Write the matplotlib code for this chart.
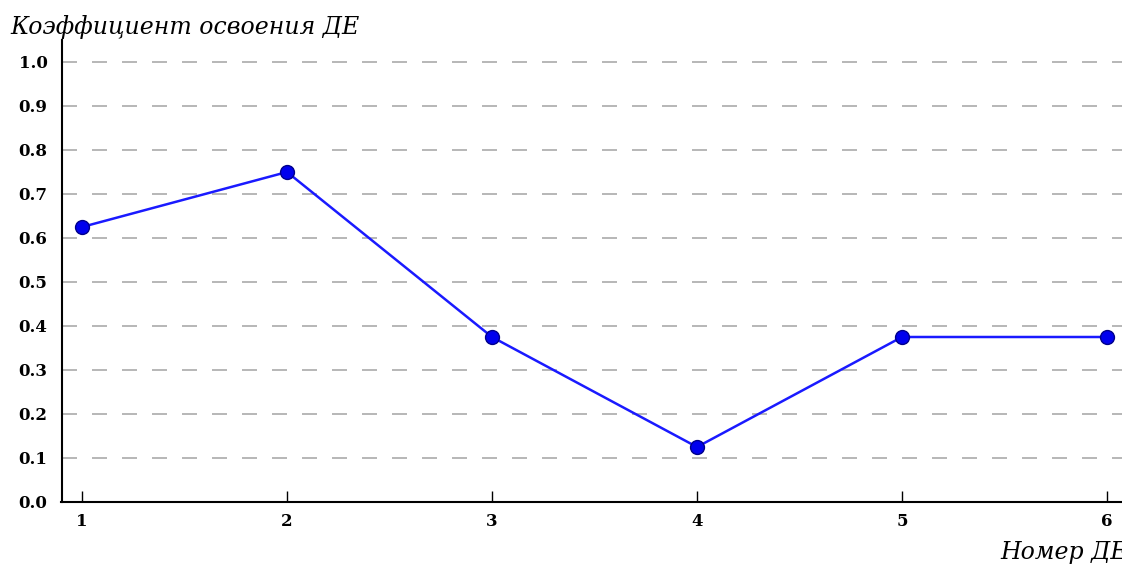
import matplotlib
matplotlib.use('Agg')
import matplotlib.pyplot as plt

# номера ДЕ и коэффициенты освоения
de_nums = [1, 2, 3, 4, 5, 6]
coef = [0.625, 0.75, 0.375, 0.125, 0.375, 0.375]
y_ticks = [0.0, 0.1, 0.2, 0.3, 0.4, 0.5, 0.6, 0.7, 0.8, 0.9, 1.0]

fig = plt.figure(figsize=(11.22, 5.68), dpi=100)
ax = fig.add_axes([61.5 / 1122, 66 / 568, 1066 / 1122, 462 / 568])

ax.plot(de_nums, coef, color='#1a1aff', linewidth=1.8, marker='o',
        markersize=10, markerfacecolor='#0000ee', markeredgecolor='#00008b', zorder=3)

ax.set_xlim(0.9, 6.1)
ax.set_ylim(0, 1.05)
ax.set_xticks(de_nums)
ax.set_yticks(y_ticks)
ax.set_yticklabels(['%.1f' % v for v in y_ticks])

for lab in ax.get_xticklabels() + ax.get_yticklabels():
    lab.set_family('DejaVu Serif')
    lab.set_fontweight('bold')
    lab.set_fontsize(12)

ax.tick_params(axis='x', direction='in', length=8, width=1, pad=8)
ax.tick_params(axis='y', direction='in', length=0, pad=10)

ax.spines['top'].set_visible(False)
ax.spines['right'].set_visible(False)
ax.spines['left'].set_linewidth(1.5)
ax.spines['bottom'].set_linewidth(1.5)

ax.yaxis.grid(True, color='#aaaaaa', linestyle=(0, (9, 9)), linewidth=1.2)
ax.set_axisbelow(True)

fig.text(10 / 1122, 1 - 27 / 568, 'Коэффициент освоения ДЕ', family='DejaVu Serif',
         style='italic', fontsize=17, va='center', ha='left')
fig.text(1000 / 1122, 1 - 553 / 568, 'Номер ДЕ', family='DejaVu Serif',
         style='italic', fontsize=17, va='center', ha='left')

fig.savefig('out.png', dpi=100)
